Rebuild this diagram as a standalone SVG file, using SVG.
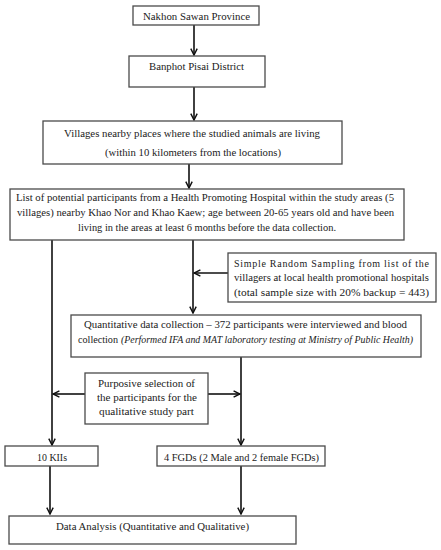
<svg xmlns="http://www.w3.org/2000/svg" width="441" height="550" viewBox="0 0 441 550">
<style>
.box{fill:#fff;stroke:#4a4a4a;stroke-width:1.3}
text{font-family:"Liberation Serif","DejaVu Serif",serif;font-size:10px;fill:#222}
.c{text-anchor:middle}
.it{font-style:italic;font-size:9.5px}
.ln{stroke:#111;stroke-width:1.6;fill:none}
</style>
<defs>
<marker id="ah" viewBox="0 0 10 10" refX="9" refY="5" markerWidth="8" markerHeight="8" markerUnits="userSpaceOnUse" orient="auto">
<path d="M1,1 L9,5 L1,9" fill="none" stroke="#111" stroke-width="1.8"/>
</marker>
</defs>
<rect width="441" height="550" fill="#fff"/>
<g id="connectors">
<line class="ln" x1="194" y1="25" x2="194" y2="55" marker-end="url(#ah)"/>
<line class="ln" x1="194" y1="87" x2="194" y2="120" marker-end="url(#ah)"/>
<line class="ln" x1="189" y1="164" x2="189" y2="188" marker-end="url(#ah)"/>
<line class="ln" x1="52" y1="240" x2="52" y2="445" marker-end="url(#ah)"/>
<line class="ln" x1="193" y1="240" x2="193" y2="313" marker-end="url(#ah)"/>
<line class="ln" x1="228" y1="273" x2="194" y2="273" marker-end="url(#ah)"/>
<line class="ln" x1="241" y1="357" x2="241" y2="445" marker-end="url(#ah)"/>
<line class="ln" x1="85" y1="394" x2="53" y2="394" marker-end="url(#ah)"/>
<line class="ln" x1="208" y1="394" x2="240" y2="394" marker-end="url(#ah)"/>
<line class="ln" x1="50" y1="466" x2="50" y2="514" marker-end="url(#ah)"/>
<line class="ln" x1="241" y1="466" x2="241" y2="514" marker-end="url(#ah)"/>
</g>
<g id="n1"><rect class="box" x="133" y="6" width="126" height="19"/><text class="c" x="196.5" y="20" textLength="107" lengthAdjust="spacingAndGlyphs">Nakhon Sawan Province</text></g>
<g id="n2"><rect class="box" x="129" y="56" width="136" height="31"/><text class="c" x="196.5" y="70" textLength="95" lengthAdjust="spacingAndGlyphs">Banphot Pisai District</text></g>
<g id="n3"><rect class="box" x="43" y="121" width="299" height="43"/>
<text class="c" x="192" y="137" textLength="256" lengthAdjust="spacingAndGlyphs">Villages nearby places where the studied animals are living</text>
<text class="c" x="193" y="156" textLength="176" lengthAdjust="spacingAndGlyphs">(within 10 kilometers from the locations)</text></g>
<g id="n4"><rect class="box" x="10" y="189" width="394" height="51"/>
<text class="c" x="205" y="201" textLength="378" lengthAdjust="spacingAndGlyphs">List of potential participants from a Health Promoting Hospital within the study areas (5</text>
<text class="c" x="205.5" y="216" textLength="377" lengthAdjust="spacingAndGlyphs">villages) nearby Khao Nor and Khao Kaew; age between 20-65 years old and have been</text>
<text class="c" x="207" y="231" textLength="258" lengthAdjust="spacingAndGlyphs">living in the areas at least 6 months before the data collection.</text></g>
<g id="n5"><rect class="box" x="228" y="253" width="208" height="49"/>
<text x="234" y="267" textLength="195" lengthAdjust="spacing">Simple Random Sampling from list of the</text>
<text x="234" y="281" textLength="195" lengthAdjust="spacingAndGlyphs">villagers at local health promotional hospitals</text>
<text x="234" y="296" textLength="195" lengthAdjust="spacingAndGlyphs">(total sample size with 20% backup = 443)</text></g>
<g id="n6"><rect class="box" x="71" y="315" width="350" height="42"/>
<text class="c" x="245.5" y="328" textLength="323" lengthAdjust="spacingAndGlyphs">Quantitative data collection – 372 participants were interviewed and blood</text>
<text x="78" y="343" textLength="40" lengthAdjust="spacingAndGlyphs">collection</text>
<text class="it" x="121" y="343" textLength="292" lengthAdjust="spacingAndGlyphs">(Performed IFA and MAT laboratory testing at Ministry  of Public Health)</text></g>
<g id="n7"><rect class="box" x="85" y="373" width="123" height="51"/>
<text class="c" x="146.5" y="387" textLength="97" lengthAdjust="spacingAndGlyphs">Purposive selection of</text>
<text class="c" x="147" y="401" textLength="100" lengthAdjust="spacingAndGlyphs">the participants for the</text>
<text class="c" x="146.5" y="415" textLength="95" lengthAdjust="spacingAndGlyphs">qualitative study part</text></g>
<g id="n8"><rect class="box" x="5" y="446" width="93" height="20"/><text class="c" x="52" y="461" textLength="30" lengthAdjust="spacingAndGlyphs">10 KIIs</text></g>
<g id="n9"><rect class="box" x="157" y="446" width="168" height="20"/><text class="c" x="241.5" y="461" textLength="155" lengthAdjust="spacingAndGlyphs">4 FGDs (2 Male and 2 female FGDs)</text></g>
<g id="n10"><rect class="box" x="9" y="516" width="287" height="28"/><text class="c" x="152.5" y="530" textLength="193" lengthAdjust="spacingAndGlyphs">Data Analysis (Quantitative and Qualitative)</text></g>
</svg>
